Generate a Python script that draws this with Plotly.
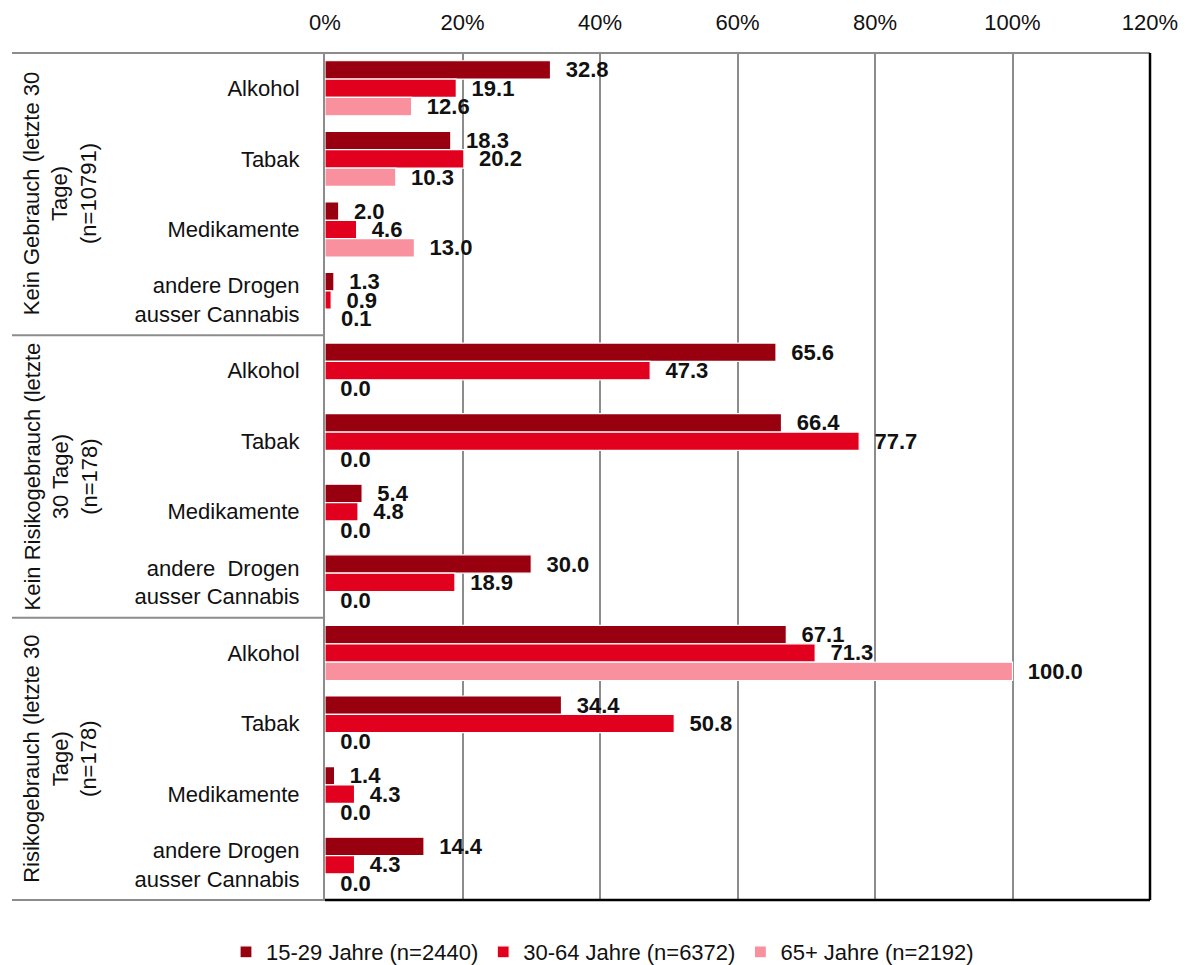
import plotly.graph_objects as go

groups = [
    "Kein Gebrauch (letzte 30<br>Tage)<br>(n=10791)",
    "Kein Risikogebrauch (letzte<br>30 Tage)<br>(n=178)",
    "Risikogebrauch (letzte 30<br>Tage)<br>(n=178)",
]
substances = [
    "Alkohol", "Tabak", "Medikamente", "andere Drogen<br>ausser Cannabis",
    "Alkohol", "Tabak", "Medikamente", "andere  Drogen<br>ausser Cannabis",
    "Alkohol", "Tabak", "Medikamente", "andere Drogen<br>ausser Cannabis",
]
series_names = ["15-29 Jahre (n=2440)", "30-64 Jahre (n=6372)", "65+ Jahre (n=2192)"]
age_15_29 = [32.8, 18.3, 2.0, 1.3, 65.6, 66.4, 5.4, 30.0, 67.1, 34.4, 1.4, 14.4]
age_30_64 = [19.1, 20.2, 4.6, 0.9, 47.3, 77.7, 4.8, 18.9, 71.3, 50.8, 4.3, 4.3]
age_65_plus = [12.6, 10.3, 13.0, 0.1, 0.0, 0.0, 0.0, 0.0, 100.0, 0.0, 0.0, 0.0]
x_ticks = [0, 20, 40, 60, 80, 100, 120]

colors = ["#98000F", "#E2001F", "#F8909E"]
FONT = "Liberation Sans, Arial, sans-serif"

ypos = list(range(len(substances)))
fig = go.Figure()
for name, vals, col in zip(series_names, [age_15_29, age_30_64, age_65_plus], colors):
    fig.add_trace(go.Bar(
        y=ypos, x=vals, name=name, orientation="h",
        marker=dict(color=col, line=dict(color="white", width=1.2)),
        texttemplate="\u00a0\u00a0%{x:.1f}", textposition="outside",
        constraintext="none", cliponaxis=False,
        textfont=dict(family=FONT, size=22, color="#111111", weight="bold"),
        hoverinfo="skip",
    ))

fig.update_layout(
    width=1189, height=965,
    margin=dict(l=317, r=47, t=45, b=73, autoexpand=False),
    plot_bgcolor="white", paper_bgcolor="white",
    barmode="group", bargap=0.22, bargroupgap=0.0,
    font=dict(family=FONT, size=22, color="#111111"),
    showlegend=True,
    legend=dict(orientation="h", xref="container", yref="container",
                x=0.5, xanchor="center", y=0.0, yanchor="bottom",
                font=dict(size=22), traceorder="normal",
                itemwidth=30),
)
fig.update_xaxes(
    side="top", range=[0, 120], tickvals=x_ticks,
    ticktext=[f"{v}%" for v in x_ticks],
    showgrid=True, gridcolor="#8C8C8C", gridwidth=2,
    zeroline=False, ticks="outside", ticklen=13, tickcolor="rgba(0,0,0,0)",
    tickfont=dict(size=22), showline=False, automargin=False,
)
fig.update_yaxes(
    range=[len(substances) - 0.5, -0.5], tickvals=ypos, ticktext=substances,
    showgrid=False, zeroline=False, showline=True, linecolor="#8C8C8C", linewidth=2,
    ticks="outside", ticklen=19, tickcolor="rgba(0,0,0,0)",
    tickfont=dict(size=22), automargin=False,
)

# frame and separators
left = -313 / 825
fig.add_shape(type="line", xref="paper", yref="paper", x0=left, x1=1, y0=1, y1=1,
              line=dict(color="#8C8C8C", width=2))
fig.add_shape(type="line", xref="paper", yref="paper", x0=left, x1=0, y0=0, y1=0,
              line=dict(color="#8C8C8C", width=2))
fig.add_shape(type="line", xref="paper", yref="paper", x0=0, x1=1, y0=0, y1=0,
              line=dict(color="black", width=2.5))
fig.add_shape(type="line", xref="paper", yref="paper", x0=1, x1=1, y0=0, y1=1,
              line=dict(color="black", width=2.5))
for b in [3.5, 7.5]:
    fig.add_shape(type="line", xref="paper", yref="y", x0=left, x1=0, y0=b, y1=b,
                  line=dict(color="#8C8C8C", width=2))

for i, g in enumerate(groups):
    fig.add_annotation(text=g, xref="paper", yref="y", x=-265 / 825, y=4 * i + 1.5,
                       textangle=-90, showarrow=False, xanchor="center", yanchor="middle",
                       font=dict(size=22, family=FONT), align="center")

fig.write_html("out.html")
